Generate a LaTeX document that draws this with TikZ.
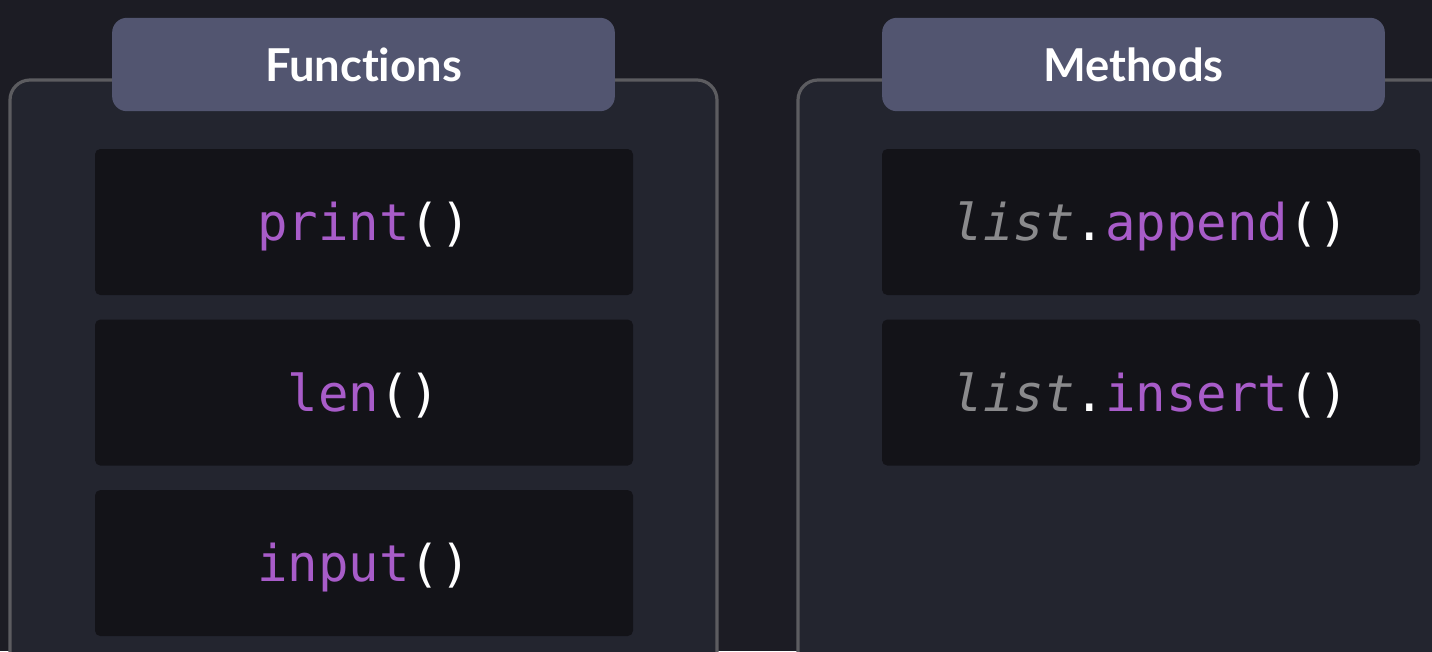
\documentclass[tikz,border=0pt]{standalone}
\usepackage{fontspec}
\setmainfont[Ligatures={NoCommon}]{Lato}
\setmonofont{DejaVu Sans Mono}
\usetikzlibrary{positioning}

\definecolor{bgdark}{HTML}{1C1C24}
\definecolor{panelfill}{HTML}{23252F}
\definecolor{panelline}{HTML}{5C5C60}
\definecolor{headfill}{HTML}{525570}
\definecolor{codefill}{HTML}{131318}
\definecolor{fnpurple}{HTML}{A85CC9}
\definecolor{objgray}{HTML}{8A8A8C}

\newcommand{\fncall}[1]{\textcolor{fnpurple}{#1}()}
\newcommand{\objname}[1]{\textcolor{objgray}{\itshape #1}.}

\begin{document}
\begin{tikzpicture}[
  x=0.75pt,y=-0.75pt,
  node distance=18pt,
  panel/.style={draw=panelline,line width=2.4pt,fill=panelfill,rounded corners=15pt},
  header/.style={fill=headfill,rounded corners=11pt,minimum width=377pt,
                 minimum height=70pt,text=white,font=\bfseries\fontsize{34}{40}\selectfont},
  codebox/.style={fill=codefill,rounded corners=4pt,minimum width=403.5pt,
                  minimum height=109.5pt,text height=32pt,text depth=4pt,
                  text=white,font=\ttfamily\fontsize{38}{44}\selectfont}
]
\clip (0,0) rectangle (1432,651);
\fill[bgdark] (0,0) rectangle (1432,651);

% the two panels run off the page
\draw[panel] (10,80) rectangle (717,720);
\draw[panel] (798,80) rectangle (1500,720);

% functions
\node[header] (funchead) at (363.5,64.5) {Functions};
\node[codebox] (print) at (364,222) {\fncall{print}};
\node[codebox,below=of print] (len) {\fncall{len}};
\node[codebox,below=of len] (input) {\fncall{input}};

% methods
\node[header] (methhead) at (1133.5,64.5) {Methods};
\node[codebox] (append) at (1151,222) {\objname{list}\fncall{append}};
\node[codebox,below=of append] (insert) {\objname{list}\fncall{insert}};
\end{tikzpicture}
\end{document}
